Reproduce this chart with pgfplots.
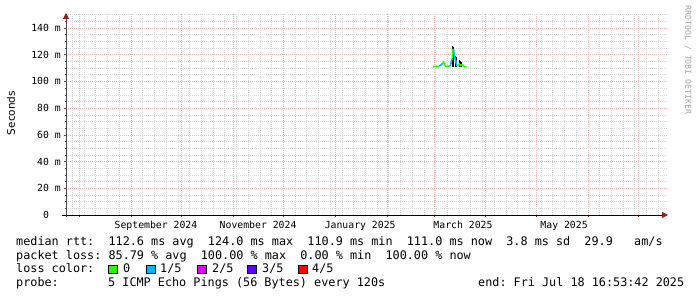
\documentclass[border=0pt]{standalone}
\usepackage{fontspec}
\setmainfont{DejaVu Sans}
\setsansfont{DejaVu Sans}
\setmonofont{DejaVu Sans Mono}
\usepackage{pgfplots}
\pgfplotsset{compat=1.18}
\usetikzlibrary{arrows.meta}
\definecolor{lgreen}{HTML}{26FF00}
\definecolor{lblue}{HTML}{00B8FF}
\definecolor{lmag}{HTML}{DD00FF}
\definecolor{lviol}{HTML}{5A00FF}
\definecolor{lred}{HTML}{FF0000}
\definecolor{mgrid}{HTML}{F2B8B8}
\definecolor{ngrid}{HTML}{DADADA}
\definecolor{arrowred}{HTML}{9A1A1A}
\begin{document}
\begin{tikzpicture}[x=1pt,y=1pt]
\path[use as bounding box] (0,0) rectangle (697,297);
\begin{axis}[
  at={(66pt,82pt)}, anchor=south west,
  scale only axis, width=602pt, height=202pt,
  xmin=-7.77, xmax=351.9, ymin=0, ymax=151.2,
  axis lines=left,
  x axis line style={black, line width=0.8pt, -{Triangle[length=6pt,width=6pt,color=arrowred]}, shorten <=-4pt},
  y axis line style={black!70, line width=0.8pt, -{Triangle[length=6pt,width=6pt,color=arrowred]}, shorten <=-2pt},
  xtick={0,31,61,92,122,153,184,212,243,273,304,334},
  xticklabels={},
  minor xtick={-4,3,10,17,24,31,38,45,52,59,66,73,80,87,94,101,108,115,122,129,136,143,150,157,164,171,178,185,192,199,206,213,220,227,234,241,248,255,262,269,276,283,290,297,304,311,318,325,332,339,346},
  ytick={0,20,40,60,80,100,120,140},
  yticklabels={0\hphantom{xx},20 m,40 m,60 m,80 m,100 m,120 m,140 m},
  minor ytick={5,10,15,25,30,35,45,50,55,65,70,75,85,90,95,105,110,115,125,130,135,145,150},
  xmajorgrids, ymajorgrids, xminorgrids, yminorgrids,
  major grid style={mgrid, dash pattern=on 1pt off 1pt, line width=0.5pt},
  minor grid style={ngrid, dash pattern=on 1pt off 1pt, line width=0.5pt},
  major tick length=2pt, minor tick length=1.5pt, tick align=outside,
  tick style={black!70, line width=0.5pt},
  extra x ticks={46,107,168,229.4,289.8},
  extra x tick labels={September 2024,November 2024,January 2025,March 2025,May 2025},
  extra x tick style={grid=none, major tick length=0pt, tick style={draw=none}},
  xticklabel style={font=\ttfamily\fontsize{9.8}{10}\selectfont, inner sep=0pt, anchor=north, yshift=-6pt},
  yticklabel style={font=\ttfamily\fontsize{9.8}{10}\selectfont, inner sep=0pt, anchor=east, xshift=-3pt},
  clip=false,
]
% smoke (black vertical bars)
\addplot[black, line width=1pt] coordinates {(223.3,111.0) (223.3,126.5)};
\addplot[black, line width=1pt] coordinates {(223.8,111.0) (223.8,125.5)};
\addplot[black, line width=1pt] coordinates {(225.1,111.0) (225.1,119.0)};
\addplot[black, line width=1pt] coordinates {(225.5,111.0) (225.5,118.0)};
\addplot[black, line width=1pt] coordinates {(227.2,111.0) (227.2,116.0)};
\addplot[black, line width=1pt] coordinates {(227.9,111.0) (227.9,115.0)};
\addplot[black, line width=1pt] coordinates {(228.6,111.0) (228.6,114.2)};
% median line, coloured by loss
\addplot[lgreen, line width=1.6pt] coordinates {(211.7,111.3) (212.5,111.0) (213.5,111.4) (214.5,111.2) (215.3,111.5)};
\addplot[lblue, line width=1.6pt] coordinates {(215.3,111.5) (216.0,112.2) (216.6,112.8) (217.1,113.2)};
\addplot[lgreen, line width=1.6pt] coordinates {(217.1,113.2) (217.6,114.3) (218.2,113.6) (218.7,111.8) (219.5,111.2) (220.5,111.4) (221.7,111.3)};
\addplot[lblue, line width=1.6pt] coordinates {(221.7,111.3) (222.3,114.0) (223.0,117.0)};
\addplot[lgreen, line width=1.6pt] coordinates {(223.0,117.0) (223.3,124.0) (223.8,124.0)};
\addplot[lblue, line width=1.6pt] coordinates {(223.8,124.0) (224.2,119.0) (225.0,116.0) (225.7,111.5)};
\addplot[lgreen, line width=1.6pt] coordinates {(225.7,111.5) (226.5,112.3) (227.3,113.0) (228.0,111.8) (229.0,112.5) (230.0,111.2) (231.6,111.0)};
\end{axis}
\node[rotate=90, font=\sffamily\fontsize{10.5}{11}\selectfont] at (11,184) {Seconds};
\node[rotate=-90, font=\ttfamily\fontsize{8.2}{9}\selectfont, text=black!35] at (688,237) {RRDTOOL / TOBI OETIKER};
\begin{scope}[every node/.style={font=\ttfamily\fontsize{11.8}{12}\selectfont, inner sep=0pt, anchor=base west}]
\node at (16,51.7) {median rtt:\ \ 112.6 ms avg\ \ 124.0 ms max\ \ 110.9 ms min\ \ 111.0 ms now\ \ 3.8 ms sd\ \ 29.9\ \ \ am/s};
\node at (16,37.9) {packet loss: 85.79 \% avg\ \ 100.00 \% max\ \ 0.00 \% min\ \ 100.00 \% now};
\node at (16,24.1) {loss color:};
\node at (123,24.1) {0};
\node at (160,24.1) {1/5};
\node at (212,24.1) {2/5};
\node at (262,24.1) {3/5};
\node at (312,24.1) {4/5};
\node at (16,10.3) {probe:};
\node at (108,10.3) {5 ICMP Echo Pings (56 Bytes) every 120s};
\node at (478,10.3) {end: Fri Jul 18 16:53:42 2025};
\end{scope}
\draw[black, line width=0.5pt, fill=lgreen] (108.3,24.1) rectangle (116.8,32.1);
\draw[black, line width=0.5pt, fill=lblue] (146.3,24.1) rectangle (154.8,32.1);
\draw[black, line width=0.5pt, fill=lmag] (197.3,24.1) rectangle (205.8,32.1);
\draw[black, line width=0.5pt, fill=lviol] (247.3,24.1) rectangle (255.8,32.1);
\draw[black, line width=0.5pt, fill=lred] (298.3,24.1) rectangle (306.8,32.1);
\end{tikzpicture}
\end{document}
